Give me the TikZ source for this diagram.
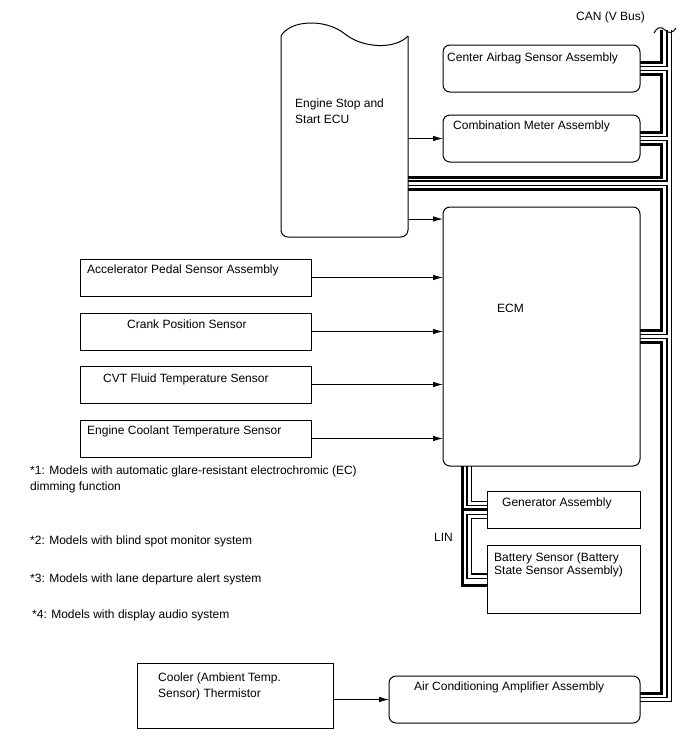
\documentclass[tikz,border=0pt]{standalone}
\usepackage{fontspec}
\setmainfont{Liberation Sans}
\usetikzlibrary{arrows.meta}
\usetikzlibrary{backgrounds}
\tikzset{rbox/.style={draw, line width=1pt, rounded corners=7pt, inner sep=0pt, outer sep=0pt}}
\tikzset{sbox/.style={draw, line width=1pt, inner sep=0pt, outer sep=0pt}}
\tikzset{txt/.style={anchor=north west, inner sep=0pt, align=left, font=\fontsize{12}{16}\selectfont}}
\tikzset{arr/.style={line width=0.9pt, -{Latex[length=10pt,width=5.5pt]}}}
\tikzset{wire/.style={line width=3pt}}

\begin{document}
\begin{tikzpicture}[x=1pt,y=-1pt]
\useasboundingbox (0,0) rectangle (688,755);
\def\bw{197}

% units on the bus
\node[rbox, minimum width=\bw, minimum height=47] (airbag) at (541.5,68.5) {};
\node[rbox, minimum width=\bw, minimum height=47] (combo) at (541.5,138.5) {};
\node[rbox, minimum width=\bw, minimum height=259] (ecm) at (541.5,336.5) {};
\node[rbox, minimum width=251, minimum height=47] (acamp) at (514.5,699.5) {};
\node[inner sep=0pt, minimum width=127, minimum height=201] (ecu) at (344.5,136.5) {};
\draw[line width=1pt] (281,36) .. controls (290,20) and (325,18) .. (345,34) .. controls (362,48) and (395,50) .. (408,36);
\draw[line width=1pt, rounded corners=7pt] (408,36) -- (408,237) -- (281,237) -- (281,36);

% sensors
\node[sbox, minimum width=231, minimum height=37] (aps) at (195.5,277.5) {};
\node[sbox, minimum width=231, minimum height=37] (crank) at (195.5,331.5) {};
\node[sbox, minimum width=231, minimum height=37] (cvt) at (195.5,384.5) {};
\node[sbox, minimum width=231, minimum height=37] (ect) at (195.5,438.5) {};
\node[sbox, minimum width=196, minimum height=65] (cooler) at (235,695.5) {};

% LIN slaves
\node[sbox, minimum width=153, minimum height=37] (gen) at (563.5,509.5) {};
\node[sbox, minimum width=153, minimum height=68] (batt) at (563.5,579) {};

% texts
\node[txt] (tcan) at (576,11.5) {CAN (V Bus)};
\node[txt] (tairbag) at (447,52.5) {Center Airbag Sensor Assembly};
\node[txt] (tcombo) at (453,120.5) {Combination Meter Assembly};
\node[txt] (tecu) at (295,98.5) {Engine Stop and\\Start ECU};
\node[txt] (tecm) at (497,303.5) {ECM};
\node[txt] (taps) at (87,264.5) {Accelerator Pedal Sensor Assembly};
\node[txt] (tcrank) at (127,319.5) {Crank Position Sensor};
\node[txt] (tcvt) at (103,373.5) {CVT Fluid Temperature Sensor};
\node[txt] (tect) at (87,425.5) {Engine Coolant Temperature Sensor};
\node[txt] (tnote1) at (30,465.5) {*1: Models with automatic glare-resistant electrochromic (EC)\\dimming function};
\node[txt] (tnote2) at (30,535.5) {*2: Models with blind spot monitor system};
\node[txt] (tnote3) at (30,573.5) {*3: Models with lane departure alert system};
\node[txt] (tnote4) at (32,609.5) {*4: Models with display audio system};
\node[txt] (tlin) at (434,533.5) {LIN};
\node[txt] (tgen) at (502,497.5) {Generator Assembly};
\node[txt, font=\fontsize{12}{13.5}\selectfont] (tbatt) at (494,552.5) {Battery Sensor (Battery\\State Sensor Assembly)};
\node[txt] (tcooler) at (158,672.5) {Cooler (Ambient Temp.\\Sensor) Thermistor};
\node[txt] (tacamp) at (414,681.5) {Air Conditioning Amplifier Assembly};

% signals
\draw[arr] (combo.west -| ecu.east) -- (combo.west);
\coordinate (ecmin) at ([yshift=-12pt]ecm.north west);
\draw[arr] (ecmin -| ecu.east) -- (ecmin);
\foreach \s in {aps,crank,cvt,ect}
  \draw[arr] (\s.east) -- (\s.east -| ecm.west);
\draw[arr] (cooler.east |- acamp.west) -- (acamp.west);

% bus wires
\coordinate (busS) at (661,30);
\coordinate (busH) at (669,30);
\foreach \d in {airbag,combo,ecm,acamp} {
  \coordinate (\d-in) at ([yshift=6pt]\d.east);
  \coordinate (\d-out) at ([yshift=-6pt]\d.east);
}
\coordinate (ecu-in) at ([yshift=-40.5pt]ecu.east);
\coordinate (ecu-can) at ([yshift=-46.5pt]ecu.east);
\coordinate (ecu-out) at ([yshift=-52.5pt]ecu.east);
\coordinate (linS) at ([xshift=19pt]ecm.south west);
\coordinate (linH) at ([xshift=26pt]ecm.south west);
\coordinate (gen-h1) at ([yshift=6pt]gen.west);
\coordinate (gen-h2) at ([yshift=-7pt]gen.west);
\coordinate (batt-h) at ([yshift=3pt]batt.west);
\coordinate (batt-s) at ([yshift=-6pt]batt.west);

\begin{scope}[on background layer]
\foreach \col/\w in {black/5.4,white/3} {
  \draw[line width=\w pt, draw=\col] (busH) |- (acamp.east);
  \foreach \d in {airbag,combo,ecm}
    \draw[line width=\w pt, draw=\col] (\d.east) -- (busH |- \d.east);
  \draw[line width=\w pt, draw=\col] (ecu-can) -- (busH |- ecu-can);
  \draw[line width=\w pt, draw=\col] (linH) |- (gen-h1);
  \draw[line width=\w pt, draw=\col] (gen-h2) -| (linH |- batt-h) -- (batt-h);
}
\draw[wire] (busS) |- (airbag-in);
\draw[wire] (airbag-out) -| (busS |- combo-in) -- (combo-in);
\draw[wire] (combo-out) -| (busS |- ecu-in) -- (ecu-in);
\draw[wire] (ecu-out) -| (busS |- ecm-in) -- (ecm-in);
\draw[wire] (ecm-out) -| (busS |- acamp-in) -- (acamp-in);
\draw[wire] (linS) |- (batt-s);
\draw[wire] (linS |- gen.west) -- (gen.west);
\end{scope}
\draw[line width=1pt] (654,33) .. controls (657,27) and (661,26) .. (665,30) .. controls (669,34) and (673,33) .. (676,28);
\end{tikzpicture}
\end{document}
